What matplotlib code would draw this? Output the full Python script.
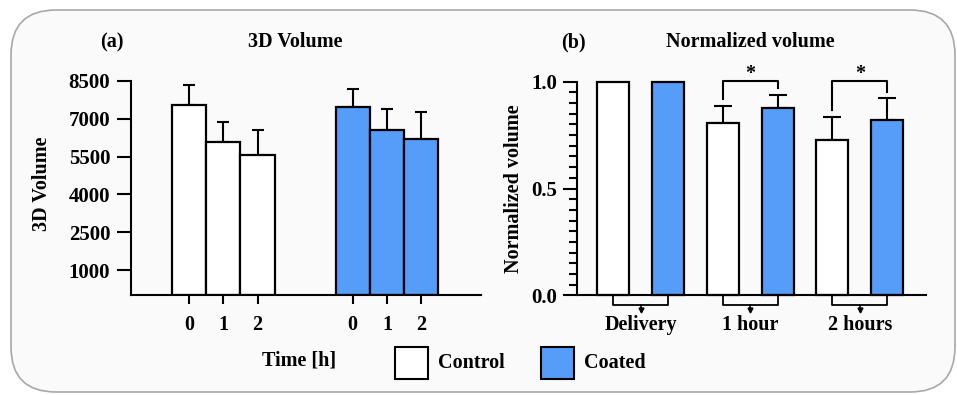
import numpy as np
import matplotlib
matplotlib.use("Agg")
import matplotlib.pyplot as plt
from matplotlib.patches import FancyBboxPatch, Rectangle
from matplotlib.ticker import MultipleLocator, FormatStrFormatter

# panel (a): 3D volume over time
time_labels = ["0", "1", "2"]
control_vol = [7550, 6100, 5550]
control_vol_sd = [780, 770, 1010]
coated_vol = [7450, 6570, 6190]
coated_vol_sd = [740, 830, 1080]

# panel (b): normalized volume
groups = ["Delivery", "1 hour", "2 hours"]
control_norm = [1.0, 0.805, 0.727]
control_norm_sd = [0.0, 0.080, 0.108]
coated_norm = [1.0, 0.875, 0.822]
coated_norm_sd = [0.0, 0.063, 0.100]
significant = [False, True, True]

BLUE = "#559DF8"
plt.rcParams["font.family"] = ["Liberation Serif", "DejaVu Serif"]
plt.rcParams["font.weight"] = "bold"
plt.rcParams["font.size"] = 14.5
plt.rcParams["axes.linewidth"] = 1.5

W, H = 957, 395
fig = plt.figure(figsize=(W / 100, H / 100), dpi=100, facecolor="white")

def px_axes(left, top, right, bottom):
    return fig.add_axes([left / W, 1 - bottom / H, (right - left) / W, (bottom - top) / H])

# rounded background panel (behind everything)
bg = FancyBboxPatch((0.11, 0.03), 9.44, 3.82,
                    boxstyle="round,pad=0,rounding_size=0.45",
                    transform=fig.dpi_scale_trans, facecolor="#fafafa",
                    edgecolor="#a8a8a8", linewidth=1.2, zorder=-5)
fig.patches.append(bg)

# ---- panel (a)
ax1 = px_axes(131, 81, 481, 295.3)
ax1.patch.set_visible(False)
ctrl_x = np.arange(3)
coat_x = np.arange(3) + 4.77
ax1.bar(ctrl_x, control_vol, width=1.0, color="white", edgecolor="black", linewidth=1.6, zorder=2)
ax1.bar(coat_x, coated_vol, width=1.0, color=BLUE, edgecolor="black", linewidth=1.6, zorder=2)
for xs, vals, sd in [(ctrl_x, control_vol, control_vol_sd), (coat_x, coated_vol, coated_vol_sd)]:
    ax1.errorbar(xs, vals, yerr=[np.zeros(3), sd], fmt="none", ecolor="black",
                 elinewidth=1.5, capsize=4.3, capthick=1.5, zorder=1, clip_on=False)
ax1.set_xlim(-1.69, 8.51)
ax1.set_ylim(0, 8500)
ax1.set_yticks([1000, 2500, 4000, 5500, 7000, 8500])
ax1.set_xticks(np.concatenate([ctrl_x, coat_x]))
ax1.set_xticklabels(time_labels + time_labels)
ax1.tick_params(axis="y", length=10, width=1.5, pad=5, labelsize=15)
ax1.tick_params(axis="x", length=6.5, width=1.5, pad=8, labelsize=14.5)
for s in ["top", "right"]:
    ax1.spines[s].set_visible(False)
ax1.set_ylabel("3D Volume", fontweight="bold")
ax1.yaxis.set_label_coords(-0.226, 0.52)

# ---- panel (b)
ax2 = px_axes(576.7, 81.7, 926, 295.3)
ax2.patch.set_visible(False)
gx = np.arange(len(groups))
off, bw = 0.251, 0.292
ax2.bar(gx - off, control_norm, width=bw, color="white", edgecolor="black", linewidth=1.6, zorder=2, clip_on=False)
ax2.bar(gx + off, coated_norm, width=bw, color=BLUE, edgecolor="black", linewidth=1.6, zorder=2, clip_on=False)
for xs, vals, sd in [(gx - off, control_norm, control_norm_sd), (gx + off, coated_norm, coated_norm_sd)]:
    for x, v, e in zip(xs, vals, sd):
        if e > 0:
            ax2.errorbar(x, v, yerr=[[0], [e]], fmt="none", ecolor="black",
                         elinewidth=1.5, capsize=6.5, capthick=1.5, zorder=1, clip_on=False)
ax2.set_xlim(-0.585, 2.605)
ax2.set_ylim(0, 1.0)
ax2.yaxis.set_major_locator(MultipleLocator(0.5))
ax2.yaxis.set_minor_locator(MultipleLocator(0.05))
ax2.yaxis.set_major_formatter(FormatStrFormatter("%.1f"))
ax2.tick_params(axis="y", which="major", length=10, width=1.5, pad=4, labelsize=15)
ax2.tick_params(axis="y", which="minor", length=5.5, width=1.5)
ax2.set_xticks(gx)
ax2.set_xticklabels(groups)
ax2.tick_params(axis="x", length=0, pad=14, labelsize=14.5)
for s in ["top", "right"]:
    ax2.spines[s].set_visible(False)
ax2.set_ylabel("Normalized volume", fontweight="bold")
ax2.yaxis.set_label_coords(-0.151, 0.5)

# grouping brackets under the x axis
for c in gx:
    ax2.plot([c - off, c - off, c + off, c + off], [0, -0.045, -0.045, 0],
             color="black", lw=1.3, clip_on=False, zorder=3)
    ax2.plot([c, c], [-0.045, -0.068], color="black", lw=1.2, clip_on=False)
    ax2.plot(c, -0.07, marker="v", ms=3.5, color="black", clip_on=False)

# significance brackets
for c, sig, cv, ce, tv, te in zip(gx, significant, control_norm, control_norm_sd,
                                  coated_norm, coated_norm_sd):
    if not sig:
        continue
    top = 1.003
    ax2.plot([c - off, c - off, c + off, c + off],
             [cv + ce + 0.034, top, top, tv + te + 0.032],
             color="black", lw=1.5, clip_on=False)
    ax2.text(c, top + 0.008, "*", ha="center", va="baseline", fontsize=14.5, fontweight="bold")

# titles and labels in pixel positions
def ftext(x, y, s, **kw):
    fig.text(x / W, 1 - y / H, s, ha="center", va="center", fontweight="bold", **kw)

ftext(112, 42, "(a)")
ftext(295, 42, "3D Volume")
ftext(573, 42, "(b)")
ftext(750.7, 42, "Normalized volume")
ftext(299, 361, "Time [h]")

# legend
for x0, col, lab in [(395, "white", "Control"), (541, BLUE, "Coated")]:
    fig.patches.append(Rectangle((x0 / W, 1 - 379 / H), 33 / W, 32 / H,
                                 transform=fig.transFigure, facecolor=col,
                                 edgecolor="black", linewidth=1.5))
    fig.text((x0 + 43) / W, 1 - 363 / H, lab, ha="left", va="center", fontweight="bold")

fig.savefig("out.png", dpi=100, facecolor="white")
